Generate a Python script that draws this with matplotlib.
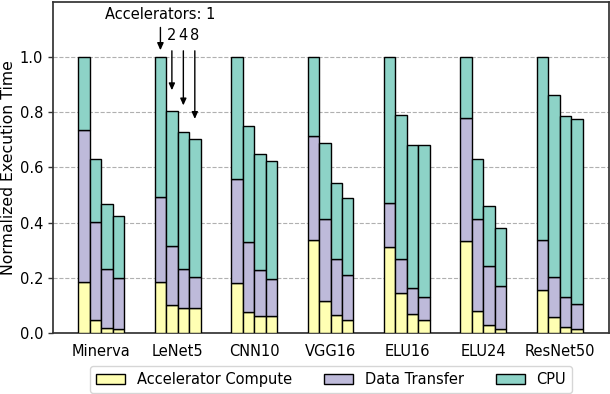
import matplotlib
matplotlib.use("Agg")
import matplotlib.pyplot as plt
import numpy as np

models = ["Minerva", "LeNet5", "CNN10", "VGG16", "ELU16", "ELU24", "ResNet50"]
accelerators = [1, 2, 4, 8]

# cumulative tops: compute, compute+transfer, total
compute_top = [
    [0.184, 0.047, 0.017, 0.013],
    [0.184, 0.100, 0.089, 0.089],
    [0.180, 0.076, 0.060, 0.060],
    [0.336, 0.117, 0.064, 0.047],
    [0.310, 0.144, 0.068, 0.047],
    [0.335, 0.081, 0.028, 0.014],
    [0.156, 0.059, 0.023, 0.013],
]
transfer_top = [
    [0.735, 0.403, 0.231, 0.199],
    [0.494, 0.315, 0.233, 0.204],
    [0.560, 0.330, 0.228, 0.195],
    [0.713, 0.412, 0.267, 0.209],
    [0.470, 0.269, 0.163, 0.132],
    [0.779, 0.413, 0.243, 0.170],
    [0.336, 0.204, 0.132, 0.104],
]
total = [
    [1.000, 0.630, 0.466, 0.425],
    [1.000, 0.805, 0.727, 0.703],
    [1.000, 0.751, 0.650, 0.623],
    [1.000, 0.690, 0.543, 0.490],
    [1.000, 0.789, 0.682, 0.680],
    [1.000, 0.629, 0.459, 0.382],
    [1.000, 0.861, 0.787, 0.774],
]
yticks = [0.0, 0.2, 0.4, 0.6, 0.8, 1.0]
series_names = ["Accelerator Compute", "Data Transfer", "CPU"]
colors = ["#ffffb3", "#bebada", "#8dd3c7"]

compute = np.array(compute_top)
transfer = np.array(transfer_top) - compute
cpu = np.array(total) - np.array(transfer_top)

plt.rcParams['font.family'] = ['DejaVu Sans']
fig = plt.figure(figsize=(6.10, 3.94), dpi=100)
ax = fig.add_axes([0.0869, 0.1548, 0.9111, 0.8402])

w = 0.15
n = len(accelerators)
x = np.arange(len(models))
for j in range(n):
    pos = x + (j - (n - 1) / 2) * w
    bottom = np.zeros(len(models))
    for k, vals in enumerate([compute[:, j], transfer[:, j], cpu[:, j]]):
        ax.bar(pos, vals, w, bottom=bottom, color=colors[k], edgecolor='black',
               linewidth=1.0, label=series_names[k] if j == 0 else None, zorder=3)
        bottom = bottom + vals

ax.set_xlim(-0.63, 6.64)
ax.set_ylim(0, 1.2)
ax.set_yticks(yticks)
ax.set_yticklabels([f"{v:.1f}" for v in yticks], fontsize=10.5)
ax.set_xticks(x)
ax.set_xticklabels(models, fontsize=10.5)
ax.tick_params(axis='x', length=0, pad=8)
ax.tick_params(axis='y', length=3.5, width=1, color='#333333')
ax.set_ylabel("Normalized Execution Time", fontsize=11.3, labelpad=3)
ax.yaxis.grid(True, linestyle='--', color='#b0b0b0', linewidth=0.8, zorder=0)
ax.set_axisbelow(True)
for s in ax.spines.values():
    s.set_color('#333333')
    s.set_linewidth(1.25)

# annotation over LeNet5 group
g = 1
bx = [g + (j - (n - 1) / 2) * w for j in range(n)]
tips = [1.015, 0.87, 0.815, 0.766]
aprops = dict(arrowstyle='-|>,head_length=0.4,head_width=0.18', color='black', lw=1)
ax.annotate("Accelerators: 1", xy=(bx[0], tips[0]), xytext=(bx[0], 1.155),
            ha='center', va='center', fontsize=10.5, arrowprops=aprops)
for j in range(1, n):
    ax.annotate("", xy=(bx[j], tips[j]), xytext=(bx[j], 1.033), arrowprops=aprops)
    ax.text(bx[j], 1.08, str(accelerators[j]), ha='center', va='center', fontsize=10.5)

fig.legend(loc='center', bbox_to_anchor=(0.5426, 0.037), ncol=3, fontsize=10.5,
           frameon=True, columnspacing=2.2)
fig.savefig("out.png", dpi=100)
